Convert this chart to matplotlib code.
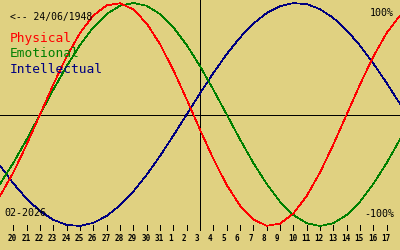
import matplotlib
matplotlib.use("Agg")
import matplotlib.pyplot as plt

# day labels along the bottom (one tick per day, index 1..29)
DAY_LABELS = ["20", "21", "22", "23", "24", "25", "26", "27", "28", "29", "30", "31",
              "1", "2", "3", "4", "5", "6", "7", "8", "9", "10", "11", "12", "13",
              "14", "15", "16", "17"]

# daily values, index 0..30 (left edge to right edge)
physical = [-0.731, -0.520, -0.270, 0.000, 0.270, 0.520, 0.731, 0.888, 0.979, 0.998,
            0.942, 0.817, 0.631, 0.398, 0.136, -0.136, -0.398, -0.631, -0.817, -0.942,
            -0.998, -0.979, -0.888, -0.731, -0.520, -0.270, 0.000, 0.270, 0.520, 0.731,
            0.888]
emotional = [-0.623, -0.434, -0.223, 0.000, 0.223, 0.434, 0.623, 0.782, 0.901, 0.975,
             1.000, 0.975, 0.901, 0.782, 0.623, 0.434, 0.223, 0.000, -0.223, -0.434,
             -0.623, -0.782, -0.901, -0.975, -1.000, -0.975, -0.901, -0.782, -0.623,
             -0.434, -0.223]
intellectual = [-0.458, -0.618, -0.756, -0.866, -0.945, -0.990, -0.999, -0.972, -0.910,
                -0.815, -0.690, -0.541, -0.372, -0.189, 0.000, 0.189, 0.372, 0.541,
                0.690, 0.815, 0.910, 0.972, 0.999, 0.990, 0.945, 0.866, 0.756, 0.618,
                0.458, 0.282, 0.095]

BIRTH = "<-- 24/06/1948"
MONTH = "02-2026"
TODAY_INDEX = 15

BG = "#e0d181"
COLORS = {"Physical": "#ff0000", "Emotional": "#008000", "Intellectual": "#000080"}
MONO = "DejaVu Sans Mono"

W, H = 400, 250
Y_TOP_PX, Y_AMP_PX = 3.0, 111.5
LW = 0.5


def py(ypx):
    # pixel row -> value on the chart scale
    return 1.0 - (ypx - Y_TOP_PX) / Y_AMP_PX


def px(xpx):
    return xpx / W * 30.0


fig = plt.figure(figsize=(4, 2.5), dpi=100)
fig.patch.set_facecolor(BG)
ax = fig.add_axes([0, 0, 1, 1])
ax.set_facecolor(BG)
ax.set_xlim(0, 30)
ax.set_ylim(py(H), py(0))
ax.axis("off")

xs = list(range(len(physical)))
for name, vals in [("Intellectual", intellectual), ("Emotional", emotional), ("Physical", physical)]:
    ax.plot(xs, vals, color=COLORS[name], lw=LW, antialiased=False, zorder=3)

# axes cross
ax.axhline(0, color="black", lw=0.72, antialiased=False, zorder=2)
ax.plot([TODAY_INDEX, TODAY_INDEX], [py(0), py(229)], color="black", lw=0.72,
        antialiased=False, zorder=2)

# day ticks and labels
for i, lab in enumerate(DAY_LABELS, start=1):
    ax.plot([i, i], [py(225), py(230)], color="black", lw=0.72, antialiased=False)
    ax.text(i - px(5.3), py(240.7), lab, fontsize=5.5, fontweight="bold", family=MONO,
            ha="left", va="baseline", color="black")

# texts
ax.text(px(10), py(20), BIRTH, fontsize=7.0, family=MONO, ha="left", va="baseline")
for name, base in [("Physical", 41.7), ("Emotional", 57.3), ("Intellectual", 72.7)]:
    ax.text(px(10), py(base), name, fontsize=9.3, family=MONO, ha="left",
            va="baseline", color=COLORS[name])
ax.text(px(394), py(16), "100%", fontsize=7.2, family=MONO, ha="right", va="baseline")
ax.text(px(394), py(216.7), "-100%", fontsize=7.2, family=MONO, ha="right", va="baseline")
ax.text(px(4), py(216.5), MONTH, fontsize=7.2, family=MONO, ha="left", va="baseline")

fig.savefig("out.png", dpi=100, facecolor=BG)
